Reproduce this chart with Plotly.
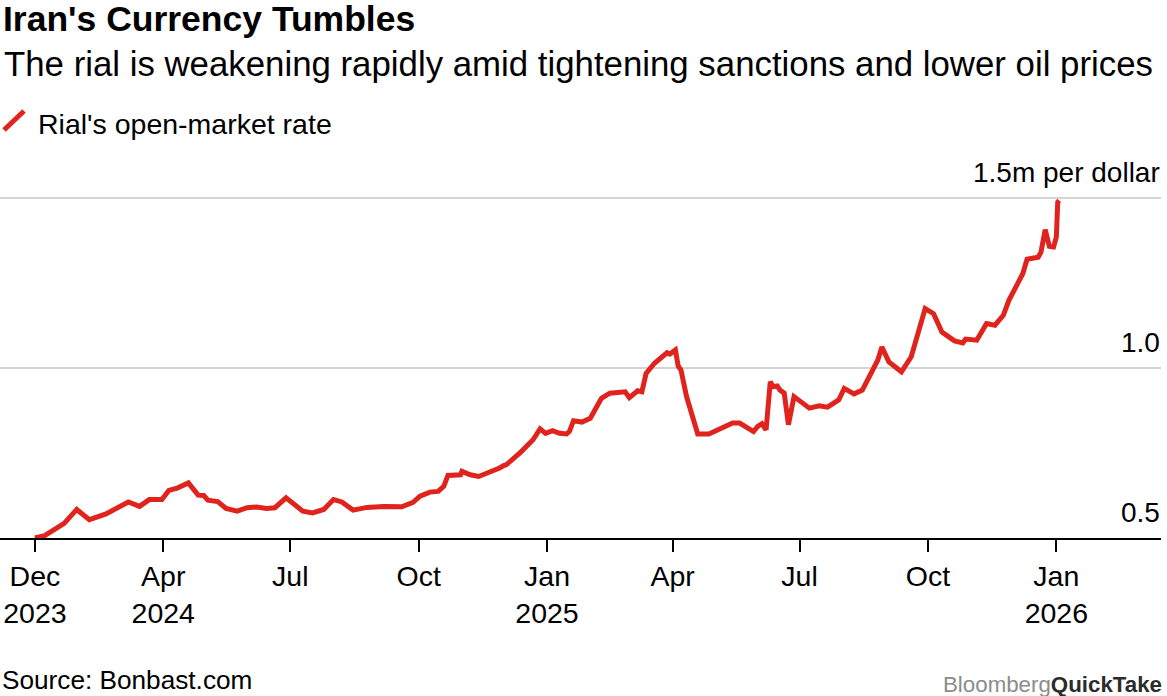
import plotly.graph_objects as go

# ---- data (rial open-market rate, millions per US dollar)
dates = [
    "2023-12-31", "2024-01-07", "2024-01-21", "2024-01-30", "2024-02-08", "2024-02-20",
    "2024-03-07", "2024-03-15", "2024-03-22", "2024-03-31",
    "2024-04-05", "2024-04-11", "2024-04-19", "2024-04-26", "2024-04-30", "2024-05-03",
    "2024-05-10", "2024-05-16", "2024-05-24", "2024-05-31", "2024-06-07", "2024-06-14",
    "2024-06-20", "2024-06-24", "2024-06-28",
    "2024-07-10", "2024-07-17", "2024-07-25", "2024-08-01", "2024-08-07", "2024-08-15",
    "2024-08-25", "2024-09-06", "2024-09-19", "2024-09-27",
    "2024-10-02", "2024-10-09", "2024-10-15", "2024-10-19", "2024-10-22", "2024-10-31",
    "2024-11-01", "2024-11-07", "2024-11-13", "2024-11-19", "2024-11-24", "2024-11-28",
    "2024-12-01", "2024-12-03", "2024-12-13", "2024-12-22", "2024-12-27", "2024-12-31",
    "2025-01-05", "2025-01-10", "2025-01-15", "2025-01-17", "2025-01-20", "2025-01-26",
    "2025-02-01", "2025-02-09", "2025-02-15", "2025-02-26", "2025-03-01", "2025-03-07",
    "2025-03-10", "2025-03-13", "2025-03-19", "2025-03-28", "2025-03-30",
    "2025-04-03", "2025-04-05", "2025-04-07", "2025-04-11", "2025-04-19", "2025-04-27",
    "2025-05-06", "2025-05-14", "2025-05-19", "2025-05-29", "2025-06-01", "2025-06-04",
    "2025-06-07", "2025-06-10", "2025-06-12", "2025-06-15", "2025-06-17", "2025-06-20",
    "2025-06-23", "2025-06-27",
    "2025-07-08", "2025-07-15", "2025-07-21", "2025-07-29", "2025-08-02", "2025-08-09",
    "2025-08-15", "2025-08-21", "2025-08-24", "2025-08-26", "2025-08-29", "2025-09-03",
    "2025-09-12", "2025-09-19", "2025-09-29",
    "2025-10-05", "2025-10-11", "2025-10-20", "2025-10-26", "2025-10-28", "2025-11-05",
    "2025-11-12", "2025-11-18", "2025-11-24", "2025-11-28", "2025-12-08", "2025-12-11",
    "2025-12-19", "2025-12-21", "2025-12-24", "2025-12-27", "2025-12-30", "2026-01-01",
    "2026-01-02", "2026-01-03",
]
rate = [
    0.500, 0.507, 0.543, 0.584, 0.554, 0.571,
    0.606, 0.593, 0.613, 0.613,
    0.640, 0.647, 0.662, 0.626, 0.625, 0.611,
    0.607, 0.587, 0.579, 0.589, 0.591, 0.587,
    0.589, 0.603, 0.618,
    0.579, 0.574, 0.584, 0.613, 0.606, 0.582,
    0.590, 0.593, 0.592, 0.605,
    0.623, 0.635, 0.637, 0.652, 0.684, 0.686,
    0.696, 0.686, 0.681, 0.691, 0.696, 0.706,
    0.713, 0.716, 0.752, 0.789, 0.821, 0.808,
    0.816, 0.808, 0.806, 0.813, 0.845, 0.841,
    0.852, 0.911, 0.926, 0.930, 0.913, 0.933,
    0.930, 0.984, 1.014, 1.045, 1.041,
    1.053, 1.006, 0.994, 0.916, 0.806, 0.806,
    0.823, 0.838, 0.838, 0.813, 0.828, 0.836,
    0.818, 0.960, 0.945, 0.947, 0.935, 0.926,
    0.833, 0.916,
    0.882, 0.889, 0.885, 0.906, 0.940, 0.924,
    0.935, 0.979, 1.002, 1.023, 1.062, 1.018,
    0.989, 1.033, 1.175,
    1.160, 1.106, 1.080, 1.074, 1.085, 1.082,
    1.131, 1.126, 1.155, 1.199, 1.278, 1.320,
    1.326, 1.341, 1.407, 1.358, 1.356, 1.385,
    1.488, 1.493,
]

x_tick_vals = ["2023-12-31", "2024-04-01", "2024-07-01", "2024-10-01", "2025-01-01",
               "2025-04-01", "2025-07-01", "2025-10-01", "2026-01-01"]
x_tick_text = ["Dec<br>2023", "Apr<br>2024", "Jul", "Oct", "Jan<br>2025",
               "Apr", "Jul", "Oct", "Jan<br>2026"]
y_tick_vals = [0.5, 1.0, 1.5]
y_tick_text = ["0.5", "1.0", "1.5m per dollar"]

title = "Iran's Currency Tumbles"
subtitle = "The rial is weakening rapidly amid tightening sanctions and lower oil prices"
series_name = "Rial's open-market rate"
source = "Source: Bonbast.com"

RED = "#e0231d"
FONT = "Liberation Sans, Arial, Helvetica, sans-serif"

W, H = 1167, 696
ML, MR, MT, MB = 0, 6, 196, 158
PW = W - ML - MR
PH = H - MT - MB
Y_RANGE = [0.5, 1.506]


def px(p):
    return (p - ML) / PW


def py(p):
    return (H - MB - p) / PH


fig = go.Figure()
fig.add_trace(go.Scatter(
    x=dates, y=rate, mode="lines", name=series_name,
    line=dict(color=RED, width=5), showlegend=False, hoverinfo="x+y",
))

annotations = [
    dict(text="<b>" + title + "</b>", x=px(1), y=py(19), xanchor="left", yanchor="middle",
         font=dict(size=35.5, color="#000000", family=FONT)),
    dict(text=subtitle, x=px(2), y=py(64), xanchor="left", yanchor="middle",
         font=dict(size=34.8, color="#000000", family=FONT)),
    dict(text=series_name, x=px(36), y=py(124), xanchor="left", yanchor="middle",
         font=dict(size=28.5, color="#000000", family=FONT)),
    dict(text=source, x=px(0), y=py(680), xanchor="left", yanchor="middle",
         font=dict(size=26.2, color="#000000", family=FONT)),
    dict(text="<span style='color:#8c8c8c'>Bloomberg</span><b>QuickTake</b>",
         x=px(1164), y=py(684), xanchor="right", yanchor="middle",
         font=dict(size=22.3, color="#2b2b2b", family=FONT)),
]
for a in annotations:
    a.update(xref="paper", yref="paper", showarrow=False, align="left")

# y-axis labels sit above their gridlines, right-aligned, placed on the y scale
for v, t in zip(y_tick_vals, y_tick_text):
    annotations.append(dict(
        text=t, x=px(1162), xref="paper", y=v, yref="y",
        xanchor="right", yanchor="middle", yshift=26, showarrow=False,
        font=dict(size=28, color="#000000", family=FONT),
    ))

shapes = [
    dict(type="line", xref="paper", yref="paper", x0=px(4), y0=py(130), x1=px(24), y1=py(111),
         line=dict(color=RED, width=5)),
]

fig.update_layout(
    width=W, height=H,
    margin=dict(l=ML, r=MR, t=MT, b=MB, pad=0),
    paper_bgcolor="#ffffff", plot_bgcolor="#ffffff",
    font=dict(family=FONT, color="#000000"),
    annotations=annotations, shapes=shapes,
    showlegend=False,
    xaxis=dict(
        type="date", range=["2023-12-06", "2026-03-17"],
        tickmode="array", tickvals=x_tick_vals, ticktext=x_tick_text,
        ticks="outside", ticklen=12, tickwidth=2, tickcolor="#000000",
        showline=True, linecolor="#000000", linewidth=2,
        showgrid=False, zeroline=False, layer="below traces",
        tickfont=dict(size=28.5, color="#000000", family=FONT),
        fixedrange=True,
    ),
    yaxis=dict(
        side="right", range=Y_RANGE,
        tickmode="array", tickvals=y_tick_vals, ticktext=y_tick_text,
        showticklabels=False,
        ticks="", showline=False, zeroline=False,
        showgrid=True, gridcolor="#d4d4d4", gridwidth=2,
        fixedrange=True,
    ),
)

fig.write_html("out.html")
